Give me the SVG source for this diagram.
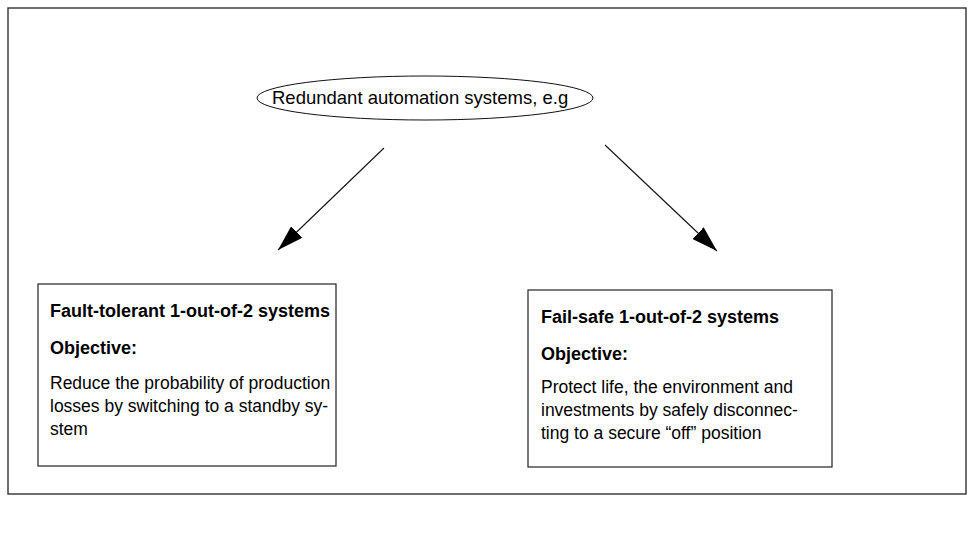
<svg xmlns="http://www.w3.org/2000/svg" width="975" height="548" viewBox="0 0 975 548">
  <style>
    .frame { fill: #ffffff; stroke: #333333; stroke-width: 1.4; }
    .node { fill: #ffffff; stroke: #222222; stroke-width: 1.2; }
    .ellipse { fill: #ffffff; stroke: #111111; stroke-width: 1; }
    .edge { stroke: #111111; stroke-width: 1.1; fill: none; marker-end: url(#arrow); }
    text { font-family: "Liberation Sans", Arial, sans-serif; fill: #000000; }
    .head { font-size: 18px; font-weight: bold; }
    .body { font-size: 17.5px; }
    .title { font-size: 18.5px; }
  </style>
  <defs>
    <!-- solid triangular arrowhead, tip at the end of the line -->
    <marker id="arrow" viewBox="0 0 26 16" refX="26" refY="8" markerWidth="26" markerHeight="16" markerUnits="userSpaceOnUse" orient="auto">
      <path d="M0,0 L26,8 L0,16 z" fill="#000000"/>
    </marker>
  </defs>

  <!-- outer border -->
  <rect class="frame" x="8" y="8" width="958" height="486"/>

  <g id="root">
    <ellipse class="ellipse" cx="425" cy="98" rx="168" ry="22"/>
    <text class="title" x="272" y="104">Redundant automation systems, e.g</text>
  </g>

  <g id="connectors">
    <line class="edge" x1="384" y1="148" x2="278" y2="250"/>
    <line class="edge" x1="605" y1="145" x2="717" y2="251"/>
  </g>

  <g id="fault-tolerant">
    <rect class="node" x="38" y="284" width="298" height="182"/>
    <text class="head" x="50" y="317">Fault-tolerant 1-out-of-2 systems</text>
    <text class="head" x="50" y="354">Objective:</text>
    <text class="body" x="50" y="389">Reduce the probability of production</text>
    <text class="body" x="50" y="412">losses by switching to a standby sy-</text>
    <text class="body" x="50" y="435">stem</text>
  </g>

  <g id="fail-safe">
    <rect class="node" x="528" y="290" width="304" height="177"/>
    <text class="head" x="541" y="323">Fail-safe 1-out-of-2 systems</text>
    <text class="head" x="541" y="360">Objective:</text>
    <text class="body" x="541" y="393">Protect life, the environment and</text>
    <text class="body" x="541" y="416">investments by safely disconnec-</text>
    <text class="body" x="541" y="439">ting to a secure “off” position</text>
  </g>
</svg>
